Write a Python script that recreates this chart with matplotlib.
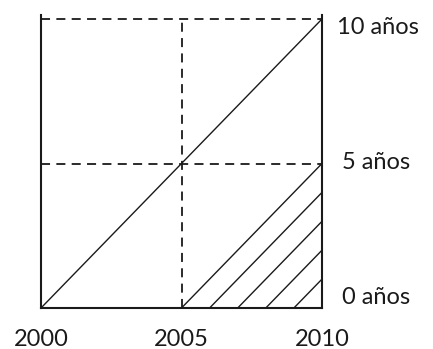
import matplotlib
matplotlib.use("Agg")
import matplotlib.pyplot as plt

# Data
years = [2000, 2005, 2010]
year_labels = ["2000", "2005", "2010"]
ages = [0, 5, 10]
age_labels = ["0 años", "5 años", "10 años"]
diag_x = [2000, 2010]
diag_y = [0, 10]
hatch_start_years = [2005, 2006, 2007, 2008, 2009]
hatch_end_year = 2010

W, H = 433, 349
fig = plt.figure(figsize=(W / 100, H / 100), dpi=100)
fig.patch.set_facecolor("white")
ax = fig.add_axes([41 / W, (H - 308) / H, 281 / W, 289 / H])
ax.set_xlim(years[0], years[-1])
ax.set_ylim(ages[0], ages[-1])
ax.axis("off")

col = "#1a1a1a"
solid_lw = 1.5
dash = dict(color=col, lw=1.3, linestyle=(0, (5, 3.5)))

# solid frame: left, right, bottom
ax.plot([years[0], years[0]], [ages[0], ages[-1] + 0.15], color=col, lw=solid_lw, clip_on=False)
ax.plot([years[-1], years[-1]], [ages[0], ages[-1] + 0.15], color=col, lw=solid_lw, clip_on=False)
ax.plot([years[0], years[-1]], [ages[0], ages[0]], color=col, lw=solid_lw, clip_on=False)

# dashed lines
ax.plot([years[0], years[-1]], [ages[-1], ages[-1]], clip_on=False, **dash)
ax.plot([years[0], years[-1]], [ages[1], ages[1]], clip_on=False, **dash)
ax.plot([years[1], years[1]], [ages[0], ages[-1]], clip_on=False, **dash)

# diagonal
ax.plot(diag_x, diag_y, color=col, lw=1.0, clip_on=False)

# hatch lines in triangle
for s in hatch_start_years:
    ax.plot([s, hatch_end_year], [0, hatch_end_year - s], color=col, lw=1.0, clip_on=False)

font = ["Lato", "DejaVu Sans"]
fs = 17
# age labels
ax.text(years[-1] + 0.52, 9.72, age_labels[2], fontsize=fs, family=font,
        ha="left", va="center", color=col, clip_on=False)
ax.text(years[-1] + 0.7, 5.05, age_labels[1], fontsize=fs, family=font,
        ha="left", va="center", color=col, clip_on=False)
ax.text(years[-1] + 0.7, 0.38, age_labels[0], fontsize=fs, family=font,
        ha="left", va="center", color=col, clip_on=False)

# year labels
for yv, lab in zip(years, year_labels):
    ax.text(yv, -1.1, lab, fontsize=fs, family=font, ha="center", va="center",
            color=col, clip_on=False)

fig.savefig("out.png", dpi=100, facecolor="white")
